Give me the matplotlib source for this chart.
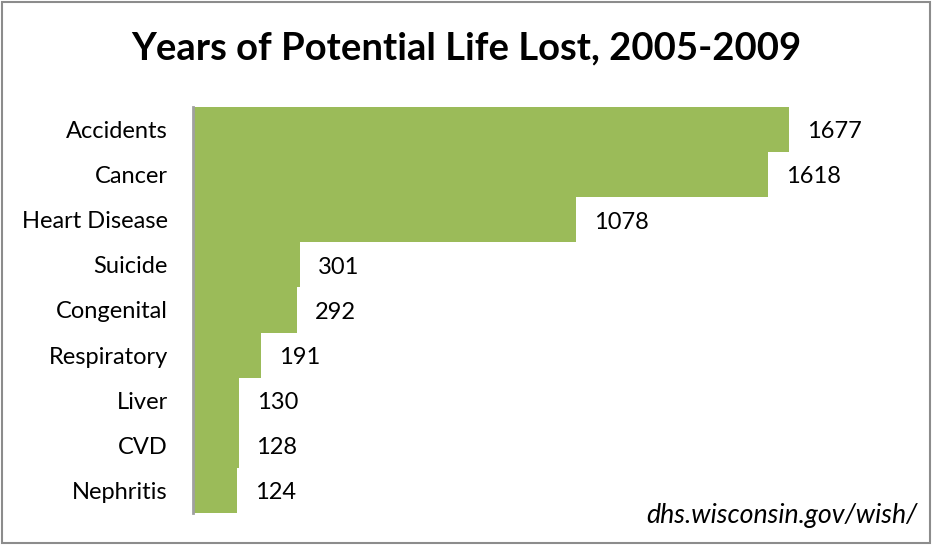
import matplotlib
matplotlib.use("Agg")
import matplotlib.pyplot as plt
from matplotlib.patches import Rectangle

causes = ["Accidents", "Cancer", "Heart Disease", "Suicide", "Congenital",
          "Respiratory", "Liver", "CVD", "Nephritis"]
ypll = [1677, 1618, 1078, 301, 292, 191, 130, 128, 124]

GREEN = "#9BBB59"
plt.rcParams["font.family"] = ["Lato", "DejaVu Sans"]

fig = plt.figure(figsize=(9.32, 5.45), dpi=100)
ax = fig.add_axes([193 / 932, 1 - 513 / 545, 640 / 932, 406 / 545])

pos = list(range(len(causes)))
ax.barh(pos, ypll, height=1.0, color=GREEN, edgecolor="none", zorder=1)
for p, v in zip(pos, ypll):
    ax.text(v + 50, p + 0.05, str(v), va="center", ha="left", fontsize=17)

ax.set_xlim(0, 1800)
ax.set_ylim(len(causes) - 0.5, -0.5)
ax.set_yticks(pos)
ax.set_yticklabels(causes, fontsize=17)
ax.set_xticks([])
ax.tick_params(axis="y", length=0, pad=18)
for s in ["top", "right", "bottom"]:
    ax.spines[s].set_visible(False)
ax.spines["left"].set_color("#A0A0A0")
ax.spines["left"].set_linewidth(2)
ax.spines["left"].set_zorder(3)

fig.text(0.5, 1 - 48 / 545, "Years of Potential Life Lost, 2005-2009",
         ha="center", va="center", fontsize=27.5, fontweight="bold")
fig.text(918 / 932, 1 - 516 / 545, "dhs.wisconsin.gov/wish/",
         ha="right", va="center", fontsize=19.3, style="italic")

fig.patches.append(Rectangle((0.002, 0.004), 0.996, 0.993, transform=fig.transFigure,
                             fill=False, edgecolor="#8C8C8C", linewidth=1.5))

fig.savefig("out.png", dpi=100)
